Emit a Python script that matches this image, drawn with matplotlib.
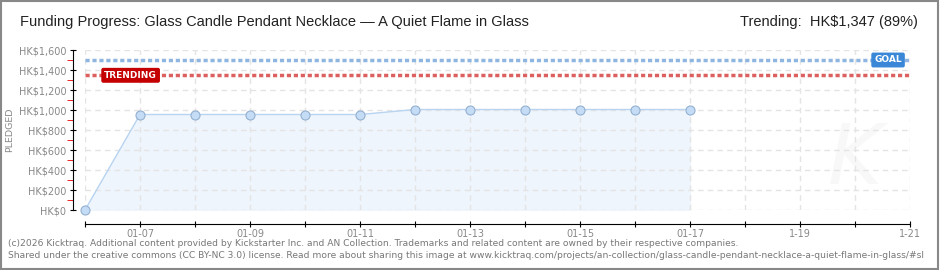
import matplotlib
matplotlib.use("Agg")
import matplotlib.pyplot as plt
from matplotlib.patches import Rectangle

# datos
dias = ["01-06", "01-07", "01-08", "01-09", "01-10", "01-11", "01-12",
        "01-13", "01-14", "01-15", "01-16", "01-17"]
pledged = [0, 955, 955, 955, 955, 955, 1005, 1005, 1005, 1005, 1005, 1005]
tick_labels = ["", "01-07", "", "01-09", "", "01-11", "", "01-13", "",
               "01-15", "", "01-17", "", "1-19", "", "1-21"]
goal = 1500
trending = 1347
y_ticks = [0, 200, 400, 600, 800, 1000, 1200, 1400, 1600]

fig = plt.figure(figsize=(9.4, 2.7), dpi=100)
ax = fig.add_axes([85 / 940, 60 / 270, 825 / 940, 160 / 270])

# marca de agua
ax.text(14.0, 500, "K", fontsize=60, color="#f8f8f8", ha="center", va="center",
        style="italic", zorder=0)

x = list(range(len(dias)))
ax.fill_between(x, pledged, color="#eef5fd", zorder=1)
ax.plot(x, pledged, color="#b8d4f0", lw=1, zorder=2)
ax.plot(x, pledged, "o", ms=6.5, mfc="#c4dcf5", mec="#94b0d0", mew=0.8,
        zorder=3, clip_on=False)

# lineas de meta y tendencia
ax.axhline(goal, color="#8fb6e0", lw=2.5, ls=(0, (1.2, 0.8)), zorder=2)
ax.axhline(trending, color="#dd6060", lw=2.5, ls=(0, (1.2, 0.8)), zorder=2)
ax.text(0.35, trending, "TRENDING", color="white", fontsize=6.5, va="center",
        ha="left", fontweight="bold", zorder=5,
        bbox=dict(boxstyle="round,pad=0.25,rounding_size=0.15", fc="#c40000", ec="#c40000"))
ax.text(14.35, goal, "GOAL", color="white", fontsize=6.5, va="center",
        ha="left", fontweight="bold", zorder=5,
        bbox=dict(boxstyle="round,pad=0.25,rounding_size=0.15", fc="#3a87d8", ec="#3a87d8"))

ax.set_xlim(0, 15)
ax.set_ylim(0, 1600)
ax.set_xticks(range(16))
ax.set_xticklabels(tick_labels)
ax.set_yticks(y_ticks)
ax.set_yticklabels(["HK$" + format(v, ",") for v in y_ticks])
ax.set_yticks([v + 100 for v in y_ticks[:-1]], minor=True)

ax.grid(True, color="#e4e4e4", ls=(0, (4, 3)), lw=1)
for s in ["top", "right"]:
    ax.spines[s].set_visible(False)
ax.spines["left"].set_position(("outward", 9))
ax.spines["bottom"].set_position(("outward", 10))
ax.tick_params(axis="both", which="major", colors="black", labelcolor="#888888",
               labelsize=7, length=5, direction="inout")
ax.tick_params(axis="x", which="major", pad=1)
ax.tick_params(axis="y", which="major", pad=2)
ax.tick_params(axis="y", which="minor", colors="#ee0000", length=4, direction="out")

fig.text(10 / 940, 1 - 130 / 270, "PLEDGED", color="#888888", fontsize=6.8,
         rotation=90, ha="center", va="center")

fig.text(20 / 940, 1 - 22 / 270, "Funding Progress: Glass Candle Pendant Necklace \u2014 A Quiet Flame in Glass",
         fontsize=10.5, color="#222222", va="center", ha="left", family="Liberation Sans")
fig.text(918 / 940, 1 - 22 / 270, "Trending:  HK$1,347 (89%)",
         fontsize=10.5, color="#222222", va="center", ha="right", family="Liberation Sans")
fig.text(8 / 940, 1 - 243 / 270,
         "(c)2026 Kicktraq. Additional content provided by Kickstarter Inc. and AN Collection. Trademarks and related content are owned by their respective companies.",
         fontsize=6.6, color="#777777", va="center")
fig.text(8 / 940, 1 - 255 / 270,
         "Shared under the creative commons (CC BY-NC 3.0) license. Read more about sharing this image at www.kicktraq.com/projects/an-collection/glass-candle-pendant-necklace-a-quiet-flame-in-glass/#sl",
         fontsize=6.6, color="#777777", va="center")

fig.patches.append(Rectangle((0.001, 0.002), 0.997, 0.995, transform=fig.transFigure,
                             fill=False, ec="#888888", lw=1.5))

fig.savefig("out.png", dpi=100, facecolor="white")
